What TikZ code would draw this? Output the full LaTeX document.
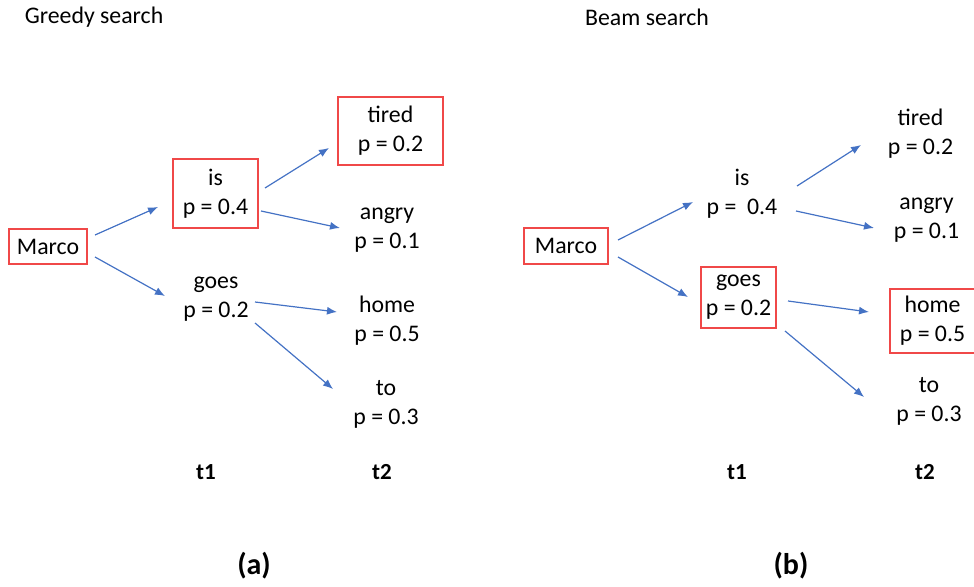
\documentclass[tikz,border=0pt]{standalone}
\usepackage{fontspec}
\setmainfont{Carlito}
\usetikzlibrary{arrows.meta, calc}

\definecolor{boxred}{HTML}{F04848}
\definecolor{arrowblue}{HTML}{4472C4}

\begin{document}
\begin{tikzpicture}[
    x=0.5pt, y=-0.5pt,
    every node/.style={
        align=center,
        inner sep=0pt,
        font=\fontsize{11.9}{14.5}\selectfont
    },
    chosen/.style={draw=boxred, line width=1pt},
    timestep/.style={font=\fontsize{11.5}{13}\selectfont\bfseries},
    panel/.style={font=\fontsize{15}{18}\selectfont\bfseries},
    arrow/.style={-{Latex[length=5pt, width=4pt]}, line width=0.6pt, color=arrowblue}
]
\useasboundingbox (0,0) rectangle (974,587);

% greedy search
\node (title1) at (94,17) {Greedy search};
\node (m1) [chosen, minimum width=39pt, minimum height=17.5pt] at (48,246.5) {Marco};
\node (is1) [chosen, minimum width=42.5pt, minimum height=34.5pt] at (215.5,193.5) {is\\p = 0.4};
\node (goes1) at (216,299) {goes\\p = 0.2};
\node (tired1) [chosen, minimum width=52.5pt, minimum height=34pt] at (390.5,131) {tired\\p = 0.2};
\node (angry1) at (387,230) {angry\\p = 0.1};
\node (home1) at (387,320.5) {home\\p = 0.5};
\node (to1) at (386,404.5) {to\\p = 0.3};
\node (t11) [timestep] at (206,472) {t1};
\node (t21) [timestep] at (382,472) {t2};
\node (a) [panel] at (254,566) {(a)};

\draw[arrow] ($(m1)+(47,-11.5)$) -- ($(is1)+(-57.5,13.5)$);
\draw[arrow] ($(m1)+(47,10.5)$) -- ($(goes1)+(-51,-3)$);
\draw[arrow] ($(is1)+(49.5,-5.5)$) -- ($(tired1)+(-61.5,17)$);
\draw[arrow] ($(is1)+(45.5,17.5)$) -- ($(angry1)+(-47,-2)$);
\draw[arrow] ($(goes1)+(39,3)$) -- ($(home1)+(-50,-8.5)$);
\draw[arrow] ($(goes1)+(39,24)$) -- ($(to1)+(-53,-15.5)$);

% beam search
\node (title2) at (647,17) {Beam search};
\node (m2) [chosen, minimum width=42pt, minimum height=18pt] at (566,246) {Marco};
\node (is2) at (742,193.5) {is\\p =\ \ 0.4};
\node (goes2) [chosen, minimum width=37.5pt, minimum height=30.5pt] at (738.5,297.5) {goes\\p = 0.2};
\node (tired2) at (920.5,133.5) {tired\\p = 0.2};
\node (angry2) at (926.5,220.5) {angry\\p = 0.1};
\node (home2) [chosen, minimum width=42.5pt, minimum height=32pt] at (932.5,321) {home\\p = 0.5};
\node (to2) at (929,401.5) {to\\p = 0.3};
\node (t12) [timestep] at (737,472) {t1};
\node (t22) [timestep] at (925,472) {t2};
\node (b) [panel] at (791,566) {(b)};

\draw[arrow] ($(m2)+(52,-6)$) -- ($(is2)+(-49,8.5)$);
\draw[arrow] ($(m2)+(52,11)$) -- ($(goes2)+(-50.5,-0.5)$);
\draw[arrow] ($(is2)+(55,-7.5)$) -- ($(tired2)+(-59.5,11.5)$);
\draw[arrow] ($(is2)+(54,17.5)$) -- ($(angry2)+(-52.5,7.5)$);
\draw[arrow] ($(goes2)+(49.5,3.5)$) -- ($(home2)+(-63.5,-9)$);
\draw[arrow] ($(goes2)+(46.5,33.5)$) -- ($(to2)+(-65,-4.5)$);

\end{tikzpicture}
\end{document}
